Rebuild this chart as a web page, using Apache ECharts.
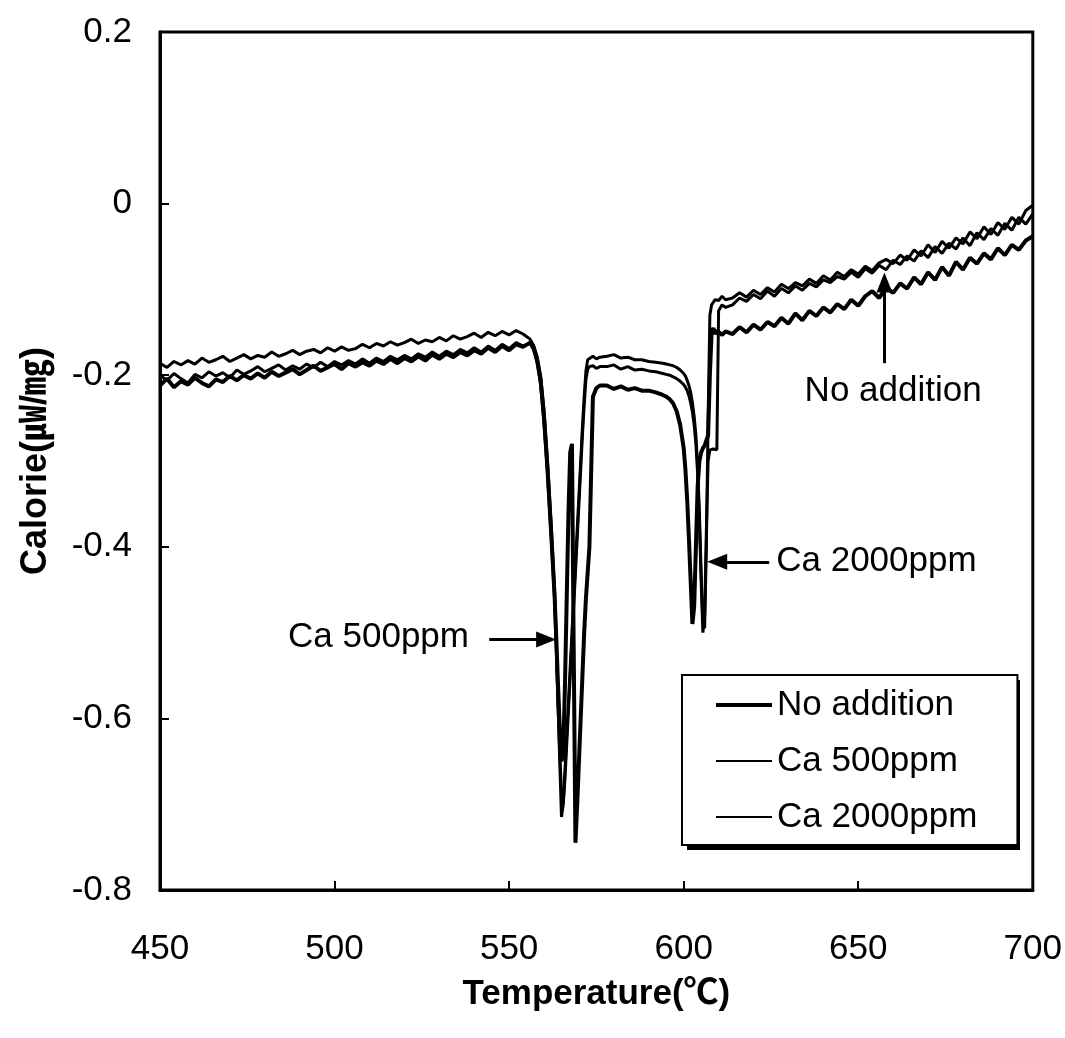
<!DOCTYPE html>
<html><head><meta charset="utf-8">
<script src="https://cdn.jsdelivr.net/npm/echarts@6/dist/echarts.min.js"></script>
<style>html,body{margin:0;padding:0;background:#fff}#c{width:1065px;height:1038px}</style>
</head><body><div id="c"></div>
<script>
// Temperature (°C) sample points
const temperature = [
450,452,454,456,458,460,462,464,466,468,470,472,474,476,478,480,482,484,486,488,490,492,494,496,498,500,502,504,506,508,510,512,514,516,518,520,522,524,526,528,530,532,534,536,538,540,542,544,546,548,550,552,554,556,
557,558,559,560,561,562,563,563.5,564,564.5,565,565.5,566,566.5,567,567.5,568,568.5,569,569.5,570,570.5,571,571.5,572,572.5,573,574,575,576,
578,580,582,584,586,588,590,592,594,
595,596,597,598,599,600,600.5,601,601.5,602,602.5,603,603.5,604,604.5,605,605.5,606,606.5,607,607.5,608,608.5,609,609.5,610,611,612,
614,616,618,620,622,624,626,628,630,632,634,636,638,640,642,644,646,648,650,652,654,656,658,660,662,664,666,668,670,672,674,676,678,680,682,684,686,688,690,692,694,696,698,700
];
const noAddition = [
-0.212,-0.204,-0.214,-0.207,-0.211,-0.203,-0.209,-0.213,-0.205,-0.208,-0.201,-0.206,-0.200,-0.204,-0.198,-0.203,-0.196,-0.201,-0.197,-0.193,-0.199,-0.194,-0.189,-0.195,-0.191,-0.187,-0.193,-0.186,-0.190,-0.185,-0.189,-0.183,-0.187,-0.181,-0.186,-0.180,-0.184,-0.178,-0.183,-0.176,-0.181,-0.175,-0.179,-0.173,-0.177,-0.171,-0.175,-0.168,-0.173,-0.166,-0.171,-0.164,-0.167,-0.162,
-0.168,-0.182,-0.205,-0.250,-0.310,-0.380,-0.455,-0.505,-0.560,-0.610,-0.650,-0.640,-0.560,-0.460,-0.360,-0.290,-0.280,-0.520,-0.745,-0.700,-0.650,-0.600,-0.550,-0.500,-0.460,-0.430,-0.400,-0.225,-0.215,-0.212,
-0.212,-0.216,-0.213,-0.217,-0.215,-0.218,-0.218,-0.220,-0.223,
-0.225,-0.228,-0.233,-0.242,-0.258,-0.285,-0.310,-0.345,-0.390,-0.440,-0.490,-0.470,-0.400,-0.330,-0.300,-0.290,-0.285,-0.282,-0.280,-0.270,-0.200,-0.150,-0.145,-0.152,-0.148,-0.150,-0.153,-0.149,
-0.152,-0.144,-0.150,-0.141,-0.147,-0.138,-0.143,-0.133,-0.140,-0.128,-0.136,-0.125,-0.131,-0.121,-0.127,-0.117,-0.123,-0.112,-0.119,-0.108,-0.102,-0.110,-0.098,-0.104,-0.093,-0.099,-0.086,-0.094,-0.080,-0.089,-0.074,-0.084,-0.068,-0.077,-0.063,-0.070,-0.058,-0.065,-0.052,-0.060,-0.048,-0.054,-0.043,-0.038
];
const ca500 = [
-0.186,-0.191,-0.184,-0.188,-0.183,-0.187,-0.180,-0.185,-0.182,-0.178,-0.184,-0.180,-0.176,-0.181,-0.177,-0.179,-0.173,-0.178,-0.175,-0.171,-0.176,-0.172,-0.170,-0.174,-0.168,-0.172,-0.167,-0.171,-0.169,-0.164,-0.168,-0.163,-0.166,-0.161,-0.165,-0.162,-0.158,-0.163,-0.159,-0.161,-0.156,-0.160,-0.154,-0.158,-0.155,-0.151,-0.156,-0.150,-0.154,-0.149,-0.153,-0.148,-0.152,-0.158,
-0.165,-0.178,-0.200,-0.240,-0.300,-0.370,-0.450,-0.510,-0.580,-0.650,-0.715,-0.700,-0.660,-0.620,-0.580,-0.540,-0.500,-0.460,-0.420,-0.380,-0.340,-0.300,-0.260,-0.225,-0.195,-0.182,-0.180,-0.178,-0.181,-0.179,
-0.178,-0.176,-0.180,-0.179,-0.182,-0.182,-0.184,-0.185,-0.186,
-0.187,-0.188,-0.189,-0.191,-0.194,-0.198,-0.201,-0.206,-0.212,-0.220,-0.232,-0.248,-0.270,-0.305,-0.360,-0.430,-0.490,-0.495,-0.400,-0.250,-0.130,-0.118,-0.115,-0.112,-0.110,-0.113,-0.108,-0.112,
-0.110,-0.104,-0.109,-0.101,-0.106,-0.098,-0.103,-0.094,-0.099,-0.092,-0.096,-0.088,-0.093,-0.084,-0.089,-0.080,-0.085,-0.077,-0.082,-0.073,-0.078,-0.069,-0.065,-0.070,-0.060,-0.066,-0.054,-0.061,-0.048,-0.057,-0.044,-0.052,-0.040,-0.047,-0.033,-0.041,-0.027,-0.036,-0.022,-0.030,-0.016,-0.024,-0.008,-0.002
];
const ca2000 = [
-0.200,-0.206,-0.198,-0.204,-0.209,-0.199,-0.203,-0.196,-0.201,-0.197,-0.203,-0.194,-0.199,-0.195,-0.190,-0.196,-0.192,-0.188,-0.194,-0.189,-0.193,-0.187,-0.191,-0.185,-0.190,-0.184,-0.188,-0.183,-0.187,-0.181,-0.186,-0.180,-0.184,-0.178,-0.182,-0.177,-0.181,-0.175,-0.179,-0.173,-0.178,-0.172,-0.176,-0.170,-0.174,-0.168,-0.173,-0.166,-0.171,-0.164,-0.169,-0.162,-0.166,-0.163,
-0.170,-0.185,-0.210,-0.255,-0.315,-0.385,-0.460,-0.520,-0.585,-0.640,-0.685,-0.700,-0.670,-0.630,-0.590,-0.550,-0.510,-0.470,-0.430,-0.390,-0.350,-0.310,-0.270,-0.235,-0.205,-0.193,-0.190,-0.189,-0.192,-0.190,
-0.190,-0.188,-0.193,-0.190,-0.194,-0.193,-0.195,-0.196,-0.198,
-0.199,-0.200,-0.202,-0.204,-0.207,-0.211,-0.214,-0.218,-0.224,-0.232,-0.243,-0.258,-0.280,-0.315,-0.370,-0.440,-0.500,-0.480,-0.380,-0.300,-0.287,-0.287,-0.286,-0.288,-0.287,-0.125,-0.118,-0.121,
-0.118,-0.110,-0.114,-0.106,-0.111,-0.102,-0.108,-0.099,-0.104,-0.096,-0.101,-0.093,-0.097,-0.089,-0.092,-0.085,-0.088,-0.080,-0.086,-0.076,-0.081,-0.072,-0.077,-0.066,-0.071,-0.061,-0.067,-0.055,-0.063,-0.050,-0.058,-0.046,-0.053,-0.040,-0.049,-0.034,-0.042,-0.029,-0.037,-0.023,-0.031,-0.016,-0.024,-0.012
];
const seriesNames = ['No addition', 'Ca 500ppm', 'Ca 2000ppm'];
const seriesValues = [noAddition, ca500, ca2000];
const xAxisRange = { min: 450, max: 700, interval: 50 };
const yAxisRange = { min: -0.8, max: 0.2, interval: 0.2 };
const xTitle = 'Temperature(℃)';
const yTitle = 'Calorie(㎼/㎎)';
const annotations = [
  { text: 'No addition', at: [660, -0.219], from: [657.5, -0.186], to: [657.5, -0.092] },
  { text: 'Ca 2000ppm', at: [626.5, -0.4175], from: [624.5, -0.4175], to: [609.6, -0.4175], align: 'left' },
  { text: 'Ca 500ppm', at: [538.5, -0.505], from: [544.3, -0.508], to: [560.6, -0.508], align: 'right' }
];

const FONT = '"Liberation Sans", Arial, "Noto Sans CJK KR", "DejaVu Sans", sans-serif';
const chart = echarts.init(document.getElementById('c'), null, { renderer: 'canvas' });
const widths = [4, 3, 3];
const legendWidths = [4, 2, 2];
const series = seriesNames.map((name, i) => ({
  name: name,
  type: 'line',
  symbol: 'none',
  data: temperature.map((t, k) => [t, seriesValues[i][k]]),
  lineStyle: { color: '#000', width: widths[i] },
  itemStyle: { color: '#000' },
  z: 3
}));
series.push({
  name: 'arrows', type: 'line', data: [], symbol: 'none',
  markLine: {
    silent: true, symbol: ['none', 'triangle'], symbolSize: [16, 20], animation: false,
    lineStyle: { color: '#000', width: 3, type: 'solid' }, label: { show: false },
    data: annotations.map(a => [{ coord: a.from }, { coord: a.to }])
  }
});
const shadow = { type: 'rect', z: 1, shape: { x: 687, y: 680, width: 333, height: 170 }, style: { fill: '#000' } };
chart.setOption({
  animation: false,
  backgroundColor: '#fff',
  color: ['#000', '#000', '#000'],
  grid: { left: 160, right: 32, top: 32, bottom: 148, show: true, borderColor: '#000', borderWidth: 3, backgroundColor: 'transparent' },
  xAxis: {
    type: 'value', min: xAxisRange.min, max: xAxisRange.max, interval: xAxisRange.interval,
    name: xTitle, nameLocation: 'middle', nameGap: 87,
    nameTextStyle: { fontFamily: FONT, fontSize: 35, fontWeight: 'bold', color: '#000' },
    axisLine: { onZero: false, lineStyle: { color: '#000', width: 3 } },
    axisTick: { inside: true, length: 9, lineStyle: { color: '#000', width: 2 } },
    axisLabel: { fontFamily: FONT, fontSize: 35, color: '#000', margin: 42 },
    splitLine: { show: false }
  },
  yAxis: {
    type: 'value', min: yAxisRange.min, max: yAxisRange.max, interval: yAxisRange.interval,
    name: yTitle, nameLocation: 'middle', nameGap: 106,
    nameTextStyle: { fontFamily: FONT, fontSize: 36, fontWeight: 'bold', color: '#000' },
    axisLine: { onZero: false, lineStyle: { color: '#000', width: 3 } },
    axisTick: { inside: true, length: 9, lineStyle: { color: '#000', width: 2 } },
    axisLabel: { fontFamily: FONT, fontSize: 35, color: '#000', margin: 28,
      formatter: v => Math.abs(v) < 1e-9 ? '0' : v.toFixed(1) },
    splitLine: { show: false }
  },
  legend: {
    data: seriesNames.map((n, i) => ({ name: n, lineStyle: { width: legendWidths[i], color: '#000' } })),
    orient: 'vertical', left: 682, top: 675,
    padding: [10, 40, 8, 32], itemWidth: 56, itemHeight: 20, itemGap: 16,
    backgroundColor: '#fff', borderColor: '#000', borderWidth: 2,
    itemStyle: { opacity: 0 },
    textStyle: { fontFamily: FONT, fontSize: 35, color: '#000', lineHeight: 40 }
  },
  graphic: [shadow],
  series: series
});
const g = annotations.map(a => {
  const p = chart.convertToPixel({ gridIndex: 0 }, a.at);
  return {
    type: 'text', x: p[0], y: p[1], z: 10,
    style: { text: a.text, fill: '#000', font: '35px ' + FONT, textAlign: a.align || 'center', textVerticalAlign: 'middle' }
  };
});
chart.setOption({ graphic: [shadow].concat(g) });
</script></body></html>
